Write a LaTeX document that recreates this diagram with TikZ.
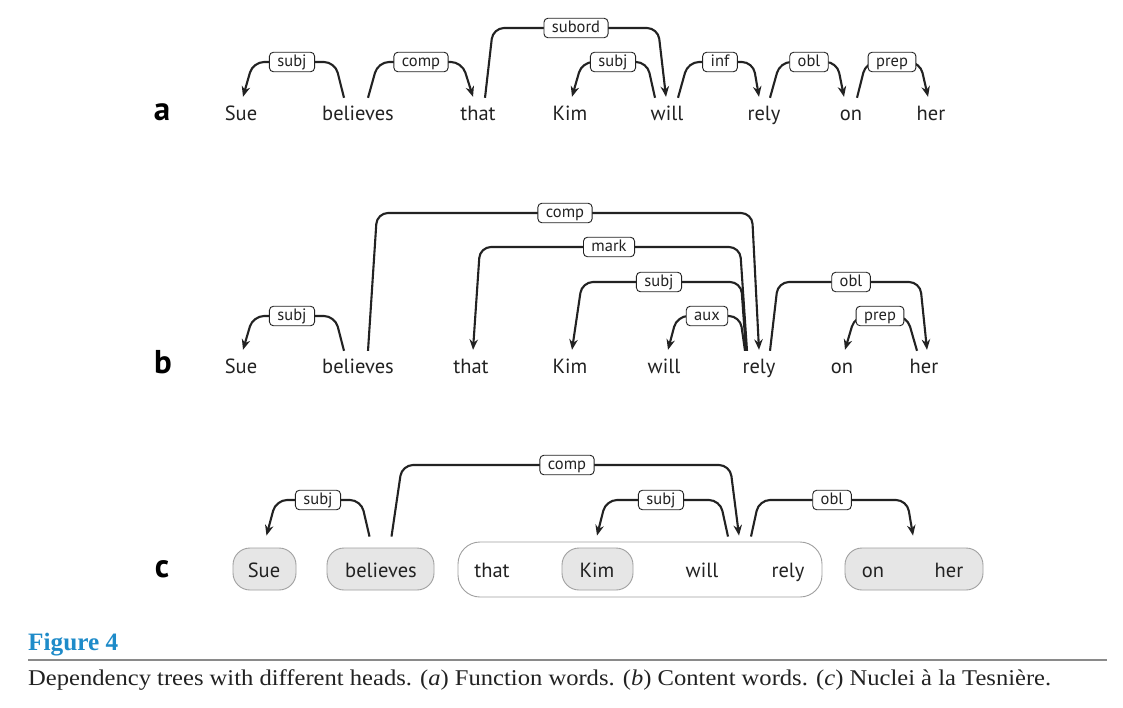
\documentclass[tikz,border=0pt]{standalone}
\usepackage{fontspec}
\setmainfont{Liberation Serif}
\setsansfont{PT Sans}
\usetikzlibrary{arrows.meta,calc}
\definecolor{ink}{HTML}{222222}
\definecolor{figblue}{HTML}{1E8BC9}
\definecolor{boxgray}{HTML}{E6E6E6}
\definecolor{boxline}{HTML}{A0A0A0}
\definecolor{rulegray}{HTML}{8A8A8A}
\tikzset{
  word/.style={font=\sffamily\fontsize{20.5}{24}\selectfont, text=ink, inner sep=0pt, text height=22pt, text depth=5pt, anchor=base},
  lab/.style={font=\sffamily\fontsize{16.5}{19}\selectfont, text=ink, draw=ink, line width=0.9pt, fill=white, rounded corners=4pt, inner xsep=8pt, inner ysep=2.5pt, text height=11.5pt, text depth=3pt},
  dep/.style={draw=ink, line width=2.1pt, rounded corners=11pt, -{Stealth[length=10.5pt,width=8.5pt]}},
  rowlab/.style={font=\sffamily\bfseries\fontsize{33}{36}\selectfont, text=black, anchor=base, inner sep=0pt},
  nucl/.style={draw=boxline, fill=boxgray, line width=0.9pt, rounded corners=17pt, minimum height=42pt, inner sep=0pt},
  bignucl/.style={draw=boxline, fill=white, line width=0.9pt, rounded corners=22pt, minimum height=55pt, minimum width=364pt, inner sep=0pt},
}
\begin{document}
\begin{tikzpicture}[x=1pt,y=-1pt]
\useasboundingbox[fill=white] (0,0) rectangle (1123,707);

% ---------------- row a ----------------
\node[rowlab] (la) at (162,120) {a};
\node[word] (aSue) at (241,120) {Sue};
\node[word] (aBel) at (358,120) {believes};
\node[word] (aThat) at (478,120) {that};
\node[word] (aKim) at (570,120) {Kim};
\node[word] (aWill) at (667,120) {will};
\node[word] (aRely) at (764,120) {rely};
\node[word] (aOn) at (851,120) {on};
\node[word] (aHer) at (931,120) {her};

\draw[dep] ($(aBel.north)+(-14,0)$) -- (335,62) -- (253,62) -- ($(aSue.north)+(2,-1)$);
\draw[dep] ($(aBel.north)+(10,0)$) -- (378,62) -- (462,62) -- ($(aThat.north)+(-5,-1)$);
\draw[dep] ($(aThat.north)+(7,0)$) -- (493,28) -- (658,28) -- ($(aWill.north)+(-1,-1)$);
\draw[dep] ($(aWill.north)+(-12,0)$) -- (647,62) -- (582,62) -- ($(aKim.north)+(2,-1)$);
\draw[dep] ($(aWill.north)+(11,0)$) -- (688,62) -- (753,62) -- ($(aRely.north)+(-5,-1)$);
\draw[dep] ($(aRely.north)+(6,0)$) -- (780,62) -- (837,62) -- ($(aOn.north)+(-7,-1)$);
\draw[dep] ($(aOn.north)+(6,0)$) -- (866,62) -- (920,62) -- ($(aHer.north)+(-3,-1)$);

\node[lab] (aL1) at (292,62) {subj};
\node[lab] (aL2) at (421,62) {comp};
\node[lab] (aL3) at (576,28) {subord};
\node[lab] (aL4) at (613,62) {subj};
\node[lab] (aL5) at (720,62) {inf};
\node[lab] (aL6) at (809,62) {obl};
\node[lab] (aL7) at (892,62) {prep};

% ---------------- row b ----------------
\node[rowlab] (lb) at (163,373) {b};
\node[word] (bSue) at (241,373) {Sue};
\node[word] (bBel) at (358,373) {believes};
\node[word] (bThat) at (471,373) {that};
\node[word] (bKim) at (570,373) {Kim};
\node[word] (bWill) at (664,373) {will};
\node[word] (bRely) at (759,373) {rely};
\node[word] (bOn) at (842,373) {on};
\node[word] (bHer) at (924,373) {her};

\draw[dep] ($(bBel.north)+(-14,0)$) -- (335,316) -- (253,316) -- ($(bSue.north)+(2,-1)$);
\draw[dep] ($(bBel.north)+(10,0)$) -- (377,213) -- (752,213) -- ($(bRely.north)+(0,-1)$);
\draw[dep] ($(bRely.north)+(-12,0)$) -- (740,247) -- (480,247) -- ($(bThat.north)+(2,-1)$);
\draw[dep] ($(bRely.north)+(-13,0)$) -- (741,282) -- (582,282) -- ($(bKim.north)+(2,-1)$);
\draw[dep] ($(bRely.north)+(-14,0)$) -- (740,316) -- (677,316) -- ($(bWill.north)+(4,-1)$);
\draw[dep] ($(bRely.north)+(11,0)$) -- (778,282) -- (920,282) -- ($(bHer.north)+(3,-1)$);
\draw[dep] ($(bHer.north)+(-7,0)$) -- (907,316) -- (855,316) -- ($(bOn.north)+(3,-1)$);

\node[lab] (bL1) at (292,316) {subj};
\node[lab] (bL2) at (565,213) {comp};
\node[lab] (bL3) at (609,247) {mark};
\node[lab] (bL4) at (659,282) {subj};
\node[lab] (bL5) at (707,316) {aux};
\node[lab] (bL6) at (851,282) {obl};
\node[lab] (bL7) at (880,316) {prep};

% ---------------- row c ----------------
\node[rowlab] (lc) at (162,577) {c};
\node[nucl, minimum width=63pt] (cSueBox) at (264.5,569) {};
\node[nucl, minimum width=107pt] (cBelBox) at (380.5,569) {};
\node[bignucl] (cBig) at (640,569.5) {};
\node[nucl, minimum width=71pt] (cKimBox) at (597.5,569) {};
\node[nucl, minimum width=138pt] (cOnBox) at (914,569) {};

\node[word] (cSue) at (264,577) {Sue};
\node[word] (cBel) at (381,577) {believes};
\node[word] (cThat) at (492,577) {that};
\node[word] (cKim) at (597,577) {Kim};
\node[word] (cWill) at (702,577) {will};
\node[word] (cRely) at (788,577) {rely};
\node[word] (cOn) at (873,577) {on};
\node[word] (cHer) at (949,577) {her};

\draw[dep] ($(cBig.north -| cBelBox.north)+(-11,-5)$) -- (361,500) -- (276,500) -- ($(cBig.north -| cSueBox.north)+(2,-6)$);
\draw[dep] ($(cBig.north -| cBelBox.north)+(11,-5)$) -- (402,465) -- (730,465) -- ($(cBig.north -| cRely.north)+(-49,-6)$);
\draw[dep] ($(cBig.north -| cRely.north)+(-60,-5)$) -- (720,500) -- (606,500) -- ($(cBig.north -| cKim.north)+(0,-6)$);
\draw[dep] ($(cBig.north -| cRely.north)+(-37,-5)$) -- (759,500) -- (907,500) -- ($(cBig.north -| cOnBox.north)+(-1,-6)$);

\node[lab] (cL1) at (318,500) {subj};
\node[lab] (cL2) at (567,465) {comp};
\node[lab] (cL3) at (661,500) {subj};
\node[lab] (cL4) at (832,500) {obl};

% ---------------- caption ----------------
\node[anchor=base west, inner sep=0pt, text=figblue] (figtitle) at (28,650)
  {\resizebox{90pt}{\height}{\bfseries\fontsize{25}{29}\selectfont Figure 4}};
\coordinate (ruleL) at (28,660);
\coordinate (ruleR) at (1107,660);
\draw[rulegray, line width=2pt] (ruleL) -- (ruleR);
\node[anchor=base west, inner sep=0pt, text=ink] (caption) at (28,685)
  {\resizebox{1023pt}{\height}{\fontsize{22.5}{27}\selectfont Dependency trees with different heads. (\textit{a}) Function words. (\textit{b}) Content words. (\textit{c}) Nuclei à la Tesnière.}};
\end{tikzpicture}
\end{document}
